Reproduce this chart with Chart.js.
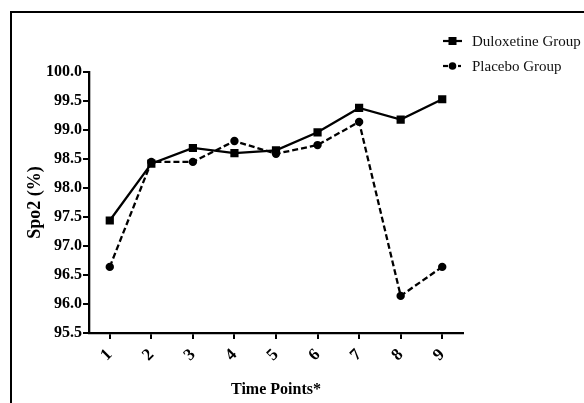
<!DOCTYPE html>
<html>
<head>
<meta charset="utf-8">
<script src="https://cdn.jsdelivr.net/npm/chart.js@4"></script>
<style>
  html, body { margin: 0; padding: 0; background: #fff; }
  #wrap { position: relative; width: 584px; height: 403px; }
  #frame { position: absolute; left: 10px; top: 11px; right: -10px; bottom: -10px; border-top: 2px solid #000; border-left: 2px solid #000; pointer-events: none; }
  canvas { position: absolute; left: 0; top: 0; }
</style>
</head>
<body>
<div id="wrap">
  <canvas id="c" width="584" height="403"></canvas>
  <div id="frame"></div>
</div>
<script>
const timePoints = ['1', '2', '3', '4', '5', '6', '7', '8', '9'];
const duloxetine = [97.44, 98.42, 98.69, 98.60, 98.65, 98.96, 99.38, 99.18, 99.53];
const placebo = [96.64, 98.45, 98.45, 98.81, 98.59, 98.74, 99.14, 96.14, 96.64];
const seriesNames = ['Duloxetine Group', 'Placebo Group'];
const yTitle = 'Spo2 (%)';
const xTitle = 'Time Points*';

const serif = "'Liberation Serif', 'Times New Roman', serif";

const legendPlugin = {
  id: 'customLegend',
  afterDraw(chart) {
    const ctx = chart.ctx;
    ctx.save();
    const rows = [41, 66];
    const ds = chart.data.datasets;
    ds.forEach((d, i) => {
      const y = rows[i];
      ctx.strokeStyle = '#000';
      ctx.fillStyle = '#000';
      ctx.lineWidth = 2.2;
      if (i === 0) {
        ctx.setLineDash([]);
        ctx.beginPath(); ctx.moveTo(443, y); ctx.lineTo(462, y); ctx.stroke();
        ctx.fillRect(448.5, y - 4, 8, 8);
      } else {
        ctx.setLineDash([]);
        ctx.beginPath(); ctx.moveTo(443, y); ctx.lineTo(448, y); ctx.stroke();
        ctx.beginPath(); ctx.moveTo(458, y); ctx.lineTo(461, y); ctx.stroke();
        ctx.beginPath(); ctx.arc(452.5, y, 3.8, 0, Math.PI * 2); ctx.fill();
      }
      ctx.font = "15px " + serif;
      ctx.textBaseline = 'middle';
      ctx.textAlign = 'left';
      ctx.fillStyle = '#111';
      ctx.fillText(d.label, 472, y + 1);
    });
    ctx.restore();
  }
};

new Chart(document.getElementById('c'), {
  type: 'line',
  data: {
    labels: timePoints,
    datasets: [
      {
        label: seriesNames[0],
        data: duloxetine,
        borderColor: '#000',
        backgroundColor: '#000',
        borderWidth: 2.3,
        pointStyle: 'rect',
        pointRadius: 5.8,
        pointBorderWidth: 0,
        tension: 0,
        fill: false
      },
      {
        label: seriesNames[1],
        data: placebo,
        borderColor: '#000',
        backgroundColor: '#000',
        borderWidth: 2.3,
        borderDash: [6, 3],
        pointStyle: 'circle',
        pointRadius: 4.2,
        pointBorderWidth: 0,
        tension: 0,
        fill: false
      }
    ]
  },
  options: {
    responsive: false,
    animation: false,
    devicePixelRatio: 1,
    layout: { padding: { top: 72, right: 121, bottom: 0, left: 0 } },
    plugins: {
      legend: { display: false },
      tooltip: { enabled: false }
    },
    scales: {
      x: {
        type: 'category',
        offset: true,
        grid: { display: true, drawOnChartArea: false, drawTicks: true, tickLength: 6, color: '#000', lineWidth: 2 },
        border: { display: true, color: '#000', width: 2.3 },
        ticks: {
          color: '#000',
          font: { family: serif, size: 17, weight: 'bold' },
          minRotation: 45,
          maxRotation: 45,
          padding: 6
        },
        title: {
          display: true,
          text: xTitle,
          color: '#000',
          font: { family: serif, size: 16, weight: 'bold' },
          padding: { top: 4, bottom: 4 }
        },
        afterFit(scale) { scale.height = 70; }
      },
      y: {
        min: 95.5,
        max: 100,
        grid: { display: true, drawOnChartArea: false, drawTicks: true, tickLength: 6, color: '#000', lineWidth: 2 },
        border: { display: true, color: '#000', width: 2.3 },
        ticks: {
          stepSize: 0.5,
          color: '#000',
          font: { family: serif, size: 16, weight: 'bold' },
          padding: 1,
          callback: (v) => Number(v).toFixed(1)
        },
        title: {
          display: true,
          text: yTitle,
          color: '#000',
          font: { family: serif, size: 18, weight: 'bold' },
          padding: { top: 25, bottom: 0 }
        },
        afterFit(scale) { scale.width = 89; }
      }
    }
  },
  plugins: [legendPlugin]
});
</script>
</body>
</html>
